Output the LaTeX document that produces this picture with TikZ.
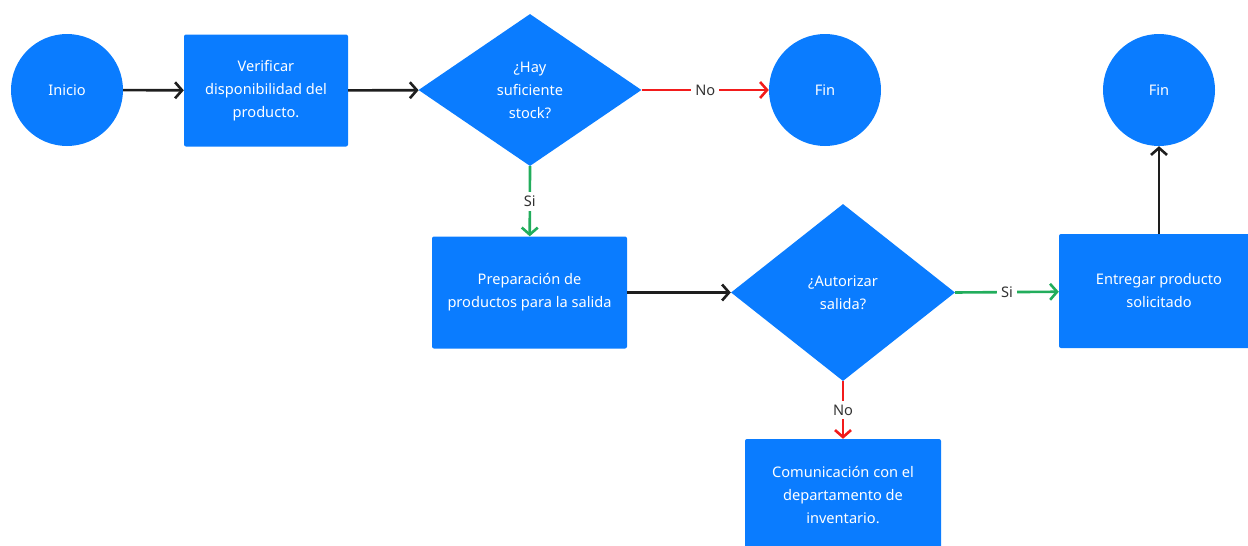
\documentclass[tikz,border=0pt]{standalone}
\usepackage{fontspec}
\setmainfont{Noto Sans}
\usetikzlibrary{shapes.geometric,arrows.meta}
\definecolor{fblue}{HTML}{0A7CFF}
\definecolor{fred}{HTML}{F21B1B}
\definecolor{fgreen}{HTML}{22AD5C}
\definecolor{fgray}{HTML}{333333}
\definecolor{fblack}{HTML}{1E1E1E}
\tikzset{
  base/.style={fill=fblue, draw=none, text=white, font=\fontsize{14.6}{23}\selectfont, align=center, inner sep=0pt},
  term/.style={base, circle, minimum size=112pt},
  proc/.style={base, rectangle, rounded corners=2pt, minimum width=#1, minimum height=112pt},
  flow/.style={line width=2.6pt, -{Straight Barb[length=7pt,width=16pt,line width=2.6pt]}},
  lbl/.style={fill=white, text=fgray, font=\fontsize{14.6}{16}\selectfont, inner sep=4pt},
}
\begin{document}
\begin{tikzpicture}[x=1pt,y=-1pt]
\useasboundingbox (0,0) rectangle (1248,546);
\node[term] (inicio) at (67,90) {Inicio};
\node[proc=164pt] (verif) at (266,90.5) {Verificar\\disponibilidad del\\producto.};
\node[base, diamond, minimum width=223pt, minimum height=152pt] (d1) at (530,90) {};
\node[base] (d1t) at (530,90) {¿Hay\\suficiente\\stock?};
\node[term] (fin1) at (825,90) {Fin};
\node[term] (fin2) at (1159,90) {Fin};
\node[proc=195pt] (prep) at (529.5,292.5) {Preparación de\\productos para la salida};
\node[base, diamond, minimum width=224pt, minimum height=177pt] (d2) at (843,292.5) {};
\node[base] (d2t) at (843,292.5) {¿Autorizar\\salida?};
\node[proc=200pt, minimum height=114pt] (entr) at (1159,291) {Entregar producto\\solicitado};
\node[proc=196pt] (comu) at (843,495) {Comunicación con el\\departamento de\\inventario.};

\draw[flow, fblack] (inicio) -- (verif);
\draw[flow, fblack] (verif) -- (d1);
\draw[flow, fred] (d1.east) -- node[lbl] {No} (fin1);
\draw[flow, fgreen] (d1.south) -- node[lbl] {Si} (prep);
\draw[flow, fblack] (prep) -- (d2);
\draw[flow, fgreen] (d2.east) -- node[lbl] {Si} (entr);
\draw[flow, fred] (d2.south) -- node[lbl] {No} (comu);
\draw[flow, fblack] (entr) -- (fin2);
\end{tikzpicture}
\end{document}
